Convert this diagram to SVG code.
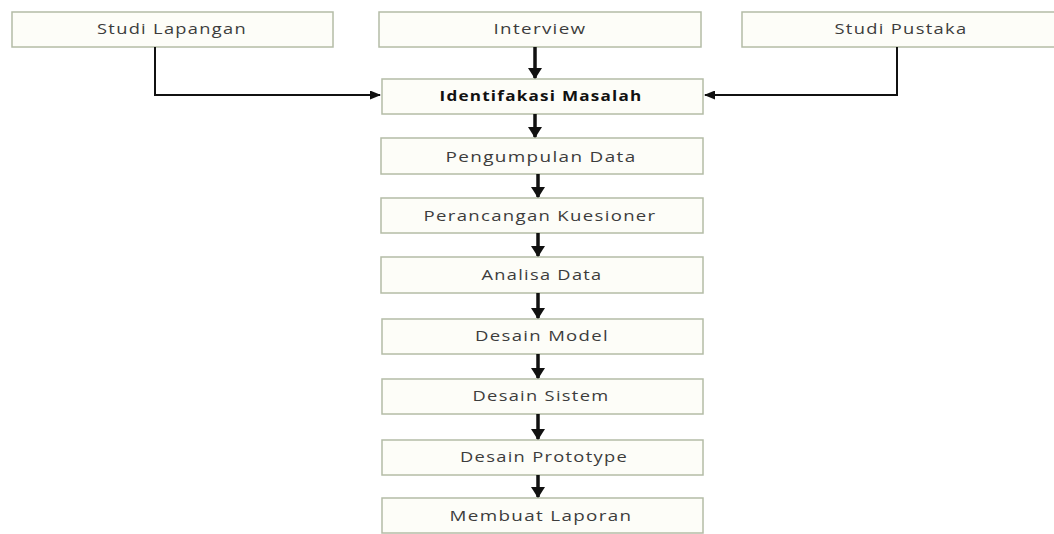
<svg xmlns="http://www.w3.org/2000/svg" width="1054" height="534" viewBox="0 0 1054 534">
<style>
.box{fill:#fdfdf8;stroke:#b4bca6;stroke-width:1.5}
.t{font-family:"Open Sans","Liberation Sans",sans-serif;font-size:14px;fill:#3c3c3c;text-anchor:middle;letter-spacing:1px}
.b{font-weight:bold;fill:#111}
.c{stroke:#111;stroke-width:2;fill:none}
.v{stroke:#111;stroke-width:3.5;fill:none}
</style>
<defs>
<marker id="ah" markerWidth="11" markerHeight="9" refX="10" refY="4.5" orient="auto" markerUnits="userSpaceOnUse">
<path d="M0,0 L11,4.5 L0,9 Z" fill="#111"/>
</marker>
<marker id="av" markerWidth="13" markerHeight="14" refX="10" refY="7" orient="auto" markerUnits="userSpaceOnUse">
<path d="M0,0 L11,7 L0,14 Z" fill="#111"/>
</marker>
</defs>
<rect width="1054" height="534" fill="#ffffff"/>
<g id="studi-lapangan"><rect class="box" x="12" y="12" width="321" height="35"/><text class="t" x="172" y="34" textLength="150" lengthAdjust="spacingAndGlyphs">Studi Lapangan</text></g>
<g id="interview"><rect class="box" x="379" y="12" width="322" height="35"/><text class="t" x="540" y="34" textLength="93" lengthAdjust="spacingAndGlyphs">Interview</text></g>
<g id="studi-pustaka"><rect class="box" x="742" y="12" width="320" height="35"/><text class="t" x="901" y="34" textLength="133" lengthAdjust="spacingAndGlyphs">Studi Pustaka</text></g>
<g id="identifikasi"><rect class="box" x="382" y="79" width="321" height="35"/><text class="t b" x="541" y="101" textLength="203" lengthAdjust="spacingAndGlyphs">Identifakasi Masalah</text></g>
<g id="pengumpulan"><rect class="box" x="381" y="138" width="322" height="36"/><text class="t" x="541" y="162" textLength="191" lengthAdjust="spacingAndGlyphs">Pengumpulan Data</text></g>
<g id="perancangan"><rect class="box" x="381" y="198" width="322" height="35"/><text class="t" x="540" y="221" textLength="233" lengthAdjust="spacingAndGlyphs">Perancangan Kuesioner</text></g>
<g id="analisa"><rect class="box" x="381" y="257" width="322" height="36"/><text class="t" x="542" y="280" textLength="121" lengthAdjust="spacingAndGlyphs">Analisa Data</text></g>
<g id="desain-model"><rect class="box" x="382" y="319" width="321" height="35"/><text class="t" x="542" y="341" textLength="134" lengthAdjust="spacingAndGlyphs">Desain Model</text></g>
<g id="desain-sistem"><rect class="box" x="382" y="379" width="321" height="35"/><text class="t" x="541" y="401" textLength="137" lengthAdjust="spacingAndGlyphs">Desain Sistem</text></g>
<g id="desain-prototype"><rect class="box" x="382" y="440" width="321" height="35"/><text class="t" x="544" y="462" textLength="168" lengthAdjust="spacingAndGlyphs">Desain Prototype</text></g>
<g id="membuat-laporan"><rect class="box" x="382" y="498" width="321" height="35"/><text class="t" x="541" y="521" textLength="183" lengthAdjust="spacingAndGlyphs">Membuat Laporan</text></g>
<g id="connectors">
<path class="c" d="M155,47 V95 H380" marker-end="url(#ah)"/>
<path class="c" d="M897,47 V95 H705" marker-end="url(#ah)"/>
<path class="v" d="M535,47 V78" marker-end="url(#av)"/>
<path class="v" d="M535,114 V137" marker-end="url(#av)"/>
<path class="v" d="M538,174 V197" marker-end="url(#av)"/>
<path class="v" d="M538,233 V256" marker-end="url(#av)"/>
<path class="v" d="M538,293 V318" marker-end="url(#av)"/>
<path class="v" d="M538,354 V378" marker-end="url(#av)"/>
<path class="v" d="M538,414 V439" marker-end="url(#av)"/>
<path class="v" d="M538,475 V497" marker-end="url(#av)"/>
</g>
</svg>
